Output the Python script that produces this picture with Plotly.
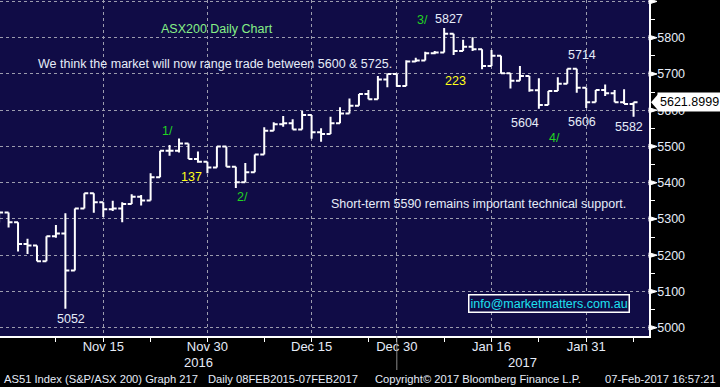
import plotly.graph_objects as go

# ---------------- data ----------------
dates = [
    "2016-10-31", "2016-11-01", "2016-11-02", "2016-11-03", "2016-11-04", "2016-11-07",
    "2016-11-08", "2016-11-09", "2016-11-10", "2016-11-11", "2016-11-14", "2016-11-15",
    "2016-11-16", "2016-11-17", "2016-11-18", "2016-11-21", "2016-11-22", "2016-11-23",
    "2016-11-24", "2016-11-25", "2016-11-28", "2016-11-29", "2016-11-30", "2016-12-01",
    "2016-12-02", "2016-12-05", "2016-12-06", "2016-12-07", "2016-12-08", "2016-12-09",
    "2016-12-12", "2016-12-13", "2016-12-14", "2016-12-15", "2016-12-16", "2016-12-19",
    "2016-12-20", "2016-12-21", "2016-12-22", "2016-12-23", "2016-12-28", "2016-12-29",
    "2016-12-30", "2017-01-03", "2017-01-04", "2017-01-05", "2017-01-06", "2017-01-09",
    "2017-01-10", "2017-01-11", "2017-01-12", "2017-01-13", "2017-01-16", "2017-01-17",
    "2017-01-18", "2017-01-19", "2017-01-20", "2017-01-23", "2017-01-24", "2017-01-25",
    "2017-01-27", "2017-01-30", "2017-01-31", "2017-02-01", "2017-02-02", "2017-02-03",
    "2017-02-06", "2017-02-07",
]
opens = [5312, 5318, 5291, 5231, 5227, 5183, 5252, 5260, 5158, 5329, 5371, 5346, 5327, 5329,
         5341, 5361, 5351, 5415, 5488, 5488, 5508, 5465, 5458, 5442, 5500, 5444, 5401, 5429,
         5478, 5543, 5561, 5564, 5547, 5587, 5539, 5534, 5564, 5591, 5612, 5645, 5630, 5685,
         5700, 5667, 5734, 5737, 5757, 5759, 5811, 5763, 5775, 5768, 5722, 5750, 5702, 5681,
         5694, 5655, 5614, 5653, 5673, 5714, 5662, 5622, 5656, 5647, 5622, 5617]
highs = [5322, 5318, 5291, 5245, 5227, 5252, 5283, 5316, 5329, 5371, 5371, 5346, 5350, 5346,
         5368, 5366, 5426, 5488, 5504, 5522, 5508, 5486, 5458, 5500, 5500, 5444, 5454, 5478,
         5553, 5567, 5584, 5575, 5598, 5587, 5550, 5582, 5608, 5632, 5645, 5656, 5694, 5700,
         5700, 5738, 5745, 5761, 5763, 5827, 5811, 5794, 5801, 5768, 5766, 5750, 5702, 5722,
         5694, 5688, 5653, 5691, 5714, 5714, 5662, 5656, 5671, 5656, 5658, 5622]
lows = [5290, 5276, 5210, 5203, 5183, 5183, 5248, 5052, 5158, 5329, 5317, 5305, 5322, 5291,
        5341, 5337, 5351, 5415, 5474, 5483, 5465, 5455, 5426, 5442, 5444, 5385, 5401, 5429,
        5478, 5543, 5554, 5547, 5547, 5521, 5513, 5534, 5564, 5591, 5612, 5630, 5630, 5663,
        5665, 5667, 5733, 5737, 5754, 5759, 5752, 5763, 5763, 5713, 5722, 5702, 5660, 5681,
        5651, 5604, 5614, 5653, 5673, 5648, 5606, 5622, 5639, 5622, 5617, 5582]
closes = [5318, 5291, 5231, 5227, 5183, 5252, 5260, 5158, 5329, 5371, 5346, 5327, 5329, 5341,
          5361, 5351, 5415, 5488, 5488, 5508, 5465, 5458, 5442, 5500, 5444, 5401, 5429, 5478,
          5543, 5561, 5564, 5547, 5587, 5539, 5534, 5564, 5591, 5612, 5645, 5630, 5685, 5700,
          5667, 5734, 5737, 5757, 5759, 5811, 5763, 5775, 5768, 5722, 5750, 5702, 5681, 5694,
          5655, 5614, 5653, 5673, 5714, 5662, 5622, 5656, 5647, 5622, 5617, 5621.8999]

major_dates = ["2016-11-15", "2016-11-30", "2016-12-15", "2016-12-30", "2017-01-16", "2017-01-31"]
major_labels = ["Nov 15", "Nov 30", "Dec 15", "Dec 30", "Jan 16", "Jan 31"]
minor_dates = ["2016-11-08", "2016-11-22", "2016-12-08", "2016-12-23", "2017-01-09", "2017-01-23", "2017-02-07"]
y_ticks = [5000, 5100, 5200, 5300, 5400, 5500, 5600, 5700, 5800, 5900]
y_labels = ["5000", "5100", "5200", "5300", "5400", "5500", "5600", "5700", "5800", ""]
y_minor = [5050, 5150, 5250, 5350, 5450, 5550, 5650, 5750, 5850]
last_price = "5621.8999"

# ---------------- layout helpers ----------------
W, H = 720, 387
PLOT_W, PLOT_H = 649, 336
FONT = "Liberation Sans, Arial, sans-serif"
NAVY = "#100c46"
GRID = "#9c9cae"
TXT = "#e6ecf8"


def px(x):
    return x / PLOT_W


def py(y):
    return 1 - y / PLOT_H


idx = list(range(len(dates)))
pos = {d: i for i, d in enumerate(dates)}

fig = go.Figure()
fig.add_trace(go.Ohlc(
    x=idx, open=opens, high=highs, low=lows, close=closes,
    increasing=dict(line=dict(color="white", width=2)),
    decreasing=dict(line=dict(color="white", width=2)),
    tickwidth=0.42, hoverinfo="skip", showlegend=False,
))

annots = []


def note(text, x, y, color, size=12.5, anchor="left"):
    annots.append(dict(text=text, x=px(x), y=py(y), xref="paper", yref="paper",
                       xanchor=anchor, yanchor="middle", showarrow=False,
                       font=dict(family=FONT, size=size, color=color)))


GREEN_L = "#86f086"
GREEN = "#22d422"
YEL = "#ffff1a"
note("ASX200 Daily Chart", 159, 29, GREEN_L)
note("We think the market will now range trade between 5600 &amp; 5725.", 36, 64, TXT)
note("3/", 415, 20, GREEN)
note("5827", 433, 19, TXT)
note("223", 443, 81, YEL)
note("5714", 566, 55, TXT)
note("5604", 509, 123, TXT)
note("5606", 566, 122, TXT)
note("5582", 613, 127, TXT)
note("4/", 547, 138, GREEN)
note("1/", 160, 131, GREEN)
note("137", 179, 177, YEL)
note("2/", 235, 197, GREEN)
note("Short-term 5590 remains important technical support.", 329, 204.5, TXT)
note("5052", 55, 319, TXT)
note("2016", 198, 362, TXT, size=13, anchor="center")
note("2017", 522, 362, TXT, size=13, anchor="center")
note("AS51 Index (S&amp;P/ASX 200) Graph 217", 2, 379, TXT, size=11.2)
note("Daily 08FEB2015-07FEB2017", 206, 379, TXT, size=11.2)
note("Copyright\u00a9 2017 Bloomberg Finance L.P.", 373, 379, TXT, size=11.2)
note("07-Feb-2017 16:57:21", 718, 379, TXT, size=11.2, anchor="right")

# email box
annots.append(dict(text="info@marketmatters.com.au", x=px(548.5), y=py(303), xref="paper", yref="paper",
                   xanchor="center", yanchor="middle", showarrow=False,
                   font=dict(family=FONT, size=12.5, color="#1ee0f0"),
                   bordercolor="white", borderwidth=1.5, borderpad=1, bgcolor=NAVY))
# last price tag
annots.append(dict(text=last_price, x=px(656.5), y=closes[-1], xref="paper", yref="y",
                   xanchor="left", yanchor="middle", showarrow=False,
                   font=dict(family=FONT, size=12.5, color="black"),
                   bgcolor="white", borderpad=2))

shapes = []
# price tag pointer
shapes.append(dict(type="path", xref="paper", yref="y", xsizemode="pixel", ysizemode="pixel",
                   xanchor=1, yanchor=closes[-1], path="M 2 0 L 9 -8 L 9 8 Z",
                   fillcolor="white", line=dict(width=0)))
# arrow-shaped major y ticks
for v in y_ticks:
    shapes.append(dict(type="path", xref="paper", yref="y", xsizemode="pixel", ysizemode="pixel",
                       xanchor=1, yanchor=v, path="M 0 -2.5 L 8 0 L 0 2.5 Z",
                       fillcolor="white", line=dict(color="white", width=1)))
# year separator line
shapes.append(dict(type="line", xref="x", yref="paper", ysizemode="pixel", yanchor=0,
                   x0=pos["2016-12-30"], x1=pos["2016-12-30"], y0=0, y1=-34,
                   line=dict(color="#8a8a8a", width=1)))

fig.update_layout(
    width=W, height=H,
    margin=dict(l=0, r=W - PLOT_W, t=0, b=H - PLOT_H),
    paper_bgcolor="black", plot_bgcolor=NAVY,
    showlegend=False,
    annotations=annots, shapes=shapes,
    font=dict(family=FONT, color=TXT),
)
fig.update_xaxes(
    type="linear", range=[0.095, 68.63], rangeslider=dict(visible=False),
    tickmode="array", tickvals=[pos[d] for d in major_dates], ticktext=major_labels,
    ticks="outside", ticklen=4, tickcolor="white", tickwidth=1,
    tickfont=dict(family=FONT, size=13, color=TXT), ticklabelstandoff=-6,
    showgrid=True, gridcolor=GRID, griddash="3px,3px", gridwidth=1,
    showline=True, linecolor="white", linewidth=1.5, zeroline=False,
    minor=dict(tickmode="array", tickvals=[pos[d] for d in minor_dates], ticks="outside",
               ticklen=4, tickcolor="white", tickwidth=1, showgrid=False),
    fixedrange=True,
)
fig.update_yaxes(
    side="right", range=[4977, 5904],
    tickmode="array", tickvals=y_ticks, ticktext=y_labels,
    ticks="outside", ticklen=4, tickcolor="white", tickwidth=1,
    tickfont=dict(family=FONT, size=12.5, color=TXT),
    showgrid=True, gridcolor=GRID, griddash="3px,3px", gridwidth=1,
    showline=True, linecolor="white", linewidth=1.5, zeroline=False,
    minor=dict(tickmode="array", tickvals=y_minor, ticks="outside", ticklen=4,
               tickcolor="white", tickwidth=1, showgrid=False),
    fixedrange=True,
)

fig.write_html(
    "out.html",
    config={"displayModeBar": False},
    post_script="document.body.style.margin='0';document.body.style.background='black';",
)
